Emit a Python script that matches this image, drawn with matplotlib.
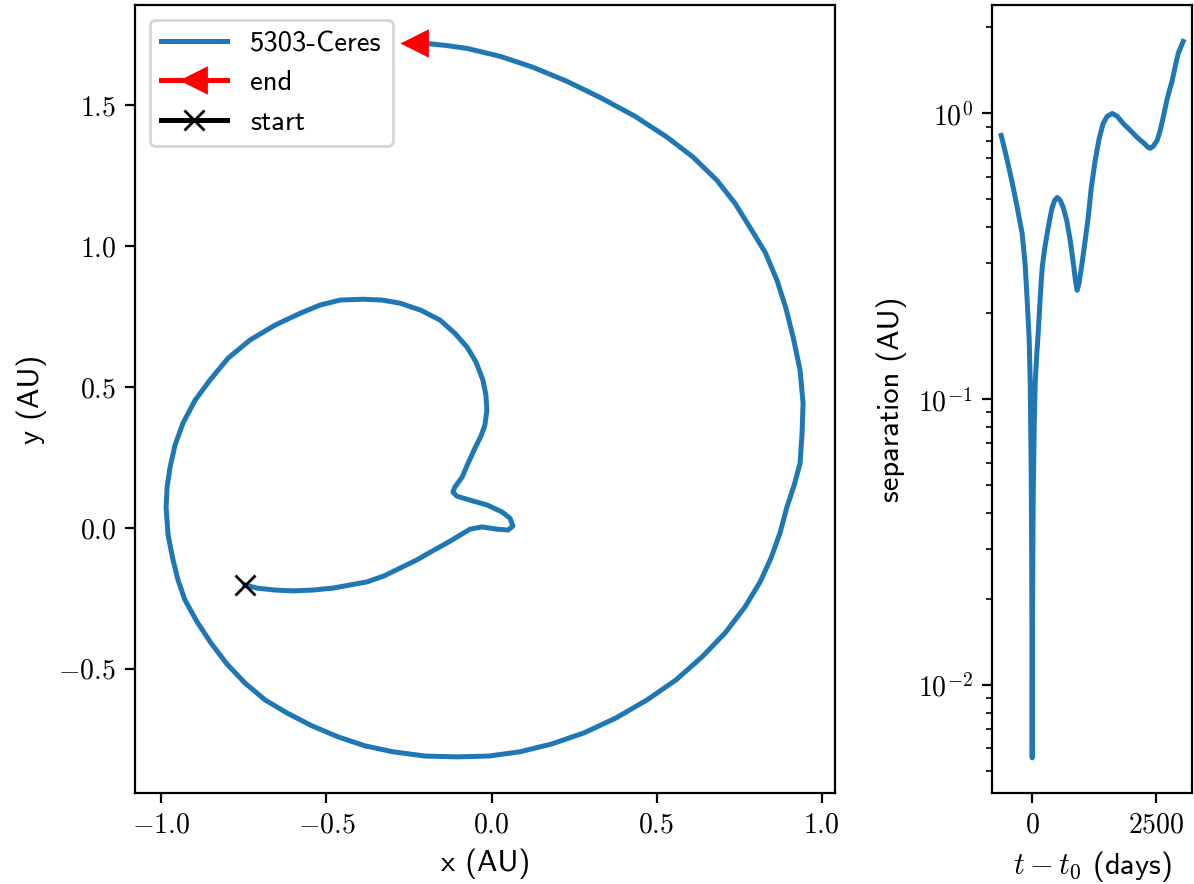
import numpy as np
import matplotlib
matplotlib.use("Agg")
import matplotlib.pyplot as plt
from matplotlib.ticker import FuncFormatter, FixedLocator

plt.rcParams['font.family'] = ['cmss10', 'DejaVu Sans']
plt.rcParams['mathtext.fontset'] = 'cm'
plt.rcParams['axes.unicode_minus'] = False
plt.rcParams['font.size'] = 10

# trajectory of the asteroid (AU)
x_au = [-0.747, -0.711, -0.656, -0.602, -0.541, -0.480, -0.429, -0.377, -0.326,
        -0.277, -0.226, -0.180, -0.135, -0.095, -0.065, -0.029, 0.017, 0.050,
        0.065, 0.056, 0.032, -0.014, -0.065, -0.105, -0.117, -0.111, -0.089,
        -0.071, -0.050, -0.032, -0.020, -0.014, -0.017, -0.026, -0.047, -0.074,
        -0.111, -0.156, -0.214, -0.277, -0.332, -0.389, -0.459, -0.520, -0.580,
        -0.656, -0.732, -0.798, -0.853, -0.898, -0.935, -0.959, -0.974, -0.983,
        -0.986, -0.980, -0.965, -0.950, -0.929, -0.892, -0.850, -0.802, -0.747,
        -0.686, -0.620, -0.544, -0.465, -0.383, -0.298, -0.202, -0.105, -0.008,
        0.086, 0.183, 0.280, 0.377, 0.471, 0.559, 0.638, 0.708, 0.768, 0.814,
        0.847, 0.874, 0.895, 0.917, 0.935, 0.941, 0.944, 0.935, 0.914, 0.892,
        0.865, 0.829, 0.783, 0.738, 0.683, 0.611, 0.532, 0.435, 0.329, 0.229,
        0.126, 0.026, -0.074, -0.141, -0.202, -0.232]
y_au = [-0.202, -0.213, -0.220, -0.223, -0.220, -0.213, -0.202, -0.191, -0.170,
        -0.142, -0.113, -0.082, -0.053, -0.025, -0.004, 0.004, -0.004, -0.007,
        0.007, 0.035, 0.057, 0.082, 0.099, 0.113, 0.128, 0.145, 0.181,
        0.230, 0.284, 0.326, 0.365, 0.418, 0.472, 0.525, 0.589, 0.642,
        0.691, 0.738, 0.773, 0.798, 0.809, 0.812, 0.809, 0.791, 0.762,
        0.720, 0.667, 0.603, 0.525, 0.454, 0.372, 0.294, 0.216, 0.145,
        0.074, -0.025, -0.113, -0.184, -0.255, -0.333, -0.408, -0.482, -0.550,
        -0.610, -0.656, -0.702, -0.741, -0.773, -0.794, -0.809, -0.812, -0.809,
        -0.794, -0.766, -0.727, -0.674, -0.610, -0.539, -0.457, -0.372, -0.280, -0.191,
        -0.106, -0.018, 0.074, 0.152, 0.230, 0.337, 0.443, 0.560, 0.677, 0.780,
        0.879, 0.979, 1.067, 1.152, 1.234, 1.316, 1.387, 1.461, 1.528, 1.585,
        1.635, 1.674, 1.702, 1.713, 1.720, 1.723]

# separation vs time (days since t0), separation given as log10(AU)
t_days = [-625, -565, -504, -444, -383, -302, -202, -141, -101, -60, -40, -20,
          -10, -5, -2, 0, 3, 8, 20, 40, 60, 91, 121, 161, 202, 252, 302, 353,
          403, 454, 504, 565, 625, 696, 766, 827, 877, 907, 948, 1008, 1069,
          1129, 1190, 1270, 1351, 1431, 1512, 1613, 1714, 1835, 1976, 2117,
          2258, 2339, 2379, 2440, 2520, 2581, 2641, 2722, 2823, 2883, 2944, 3044]
log_sep = [-0.077, -0.119, -0.164, -0.210, -0.259, -0.329, -0.420, -0.531,
           -0.654, -0.794, -0.944, -1.25, -1.55, -1.83, -2.05, -2.255, -2.0,
           -1.7, -1.35, -1.10, -0.944, -0.846, -0.769, -0.647, -0.538, -0.472,
           -0.420, -0.371, -0.329, -0.304, -0.294, -0.304, -0.329, -0.374,
           -0.444, -0.521, -0.591, -0.619, -0.591, -0.521, -0.444, -0.364,
           -0.262, -0.164, -0.087, -0.035, -0.010, 0.000, -0.010, -0.035,
           -0.059, -0.084, -0.105, -0.119, -0.122, -0.115, -0.094, -0.059,
           -0.014, 0.052, 0.115, 0.164, 0.210, 0.252]
sep = 10 ** np.array(log_sep)

fig = plt.figure(figsize=(5.97, 4.42), dpi=200)
ax = fig.add_axes([0.1134, 0.103, 0.586, 0.891])
ax2 = fig.add_axes([0.831, 0.103, 0.1675, 0.891])

ax.plot(x_au, y_au, lw=1.8, label='5303-Ceres')
ax.plot(x_au[-1], y_au[-1], '<-', color='red', ms=8.5, lw=1.8, label='end')
ax.plot(x_au[0], y_au[0], 'x-', color='black', ms=7, lw=1.8, label='start')
ax.set_xlim(-1.079, 1.041)
ax.set_ylim(-0.94, 1.855)
ax.xaxis.set_major_locator(FixedLocator([-1.0, -0.5, 0.0, 0.5, 1.0]))
ax.yaxis.set_major_locator(FixedLocator([-0.5, 0.0, 0.5, 1.0, 1.5]))
fmt = FuncFormatter(lambda v, p: r'$%.1f$' % v)
ax.xaxis.set_major_formatter(fmt)
ax.yaxis.set_major_formatter(fmt)
ax.set_xlabel('x (AU)', fontsize=11)
ax.set_ylabel('y (AU)', fontsize=11)
ax.legend(loc='upper left', fontsize=10.3, handlelength=2.3)

ax2.plot(t_days, sep, lw=1.8)
ax2.set_yscale('log')
ax2.set_xlim(-806, 3226)
ax2.set_ylim(0.00419, 2.39)
ax2.xaxis.set_major_locator(FixedLocator([0, 2500]))
ax2.xaxis.set_major_formatter(FuncFormatter(lambda v, p: r'$%d$' % v))
ax2.yaxis.set_major_formatter(FuncFormatter(lambda v, p: r'$10^{%d}$' % round(np.log10(v))))
ax2.set_xlabel(r'$t - t_0$ (days)', fontsize=11)
ax2.set_ylabel('separation (AU)', fontsize=11)

fig.savefig('out.png', dpi=200)
